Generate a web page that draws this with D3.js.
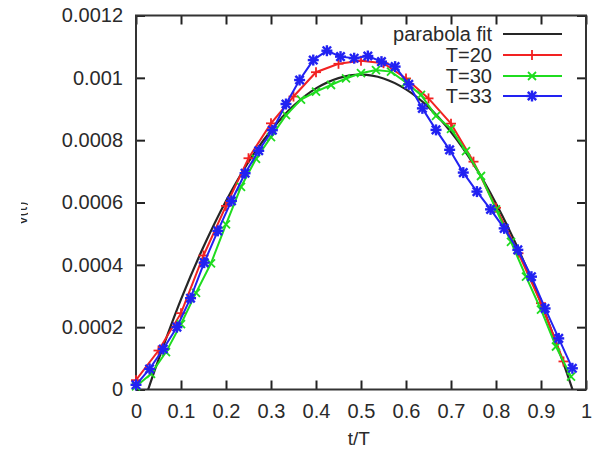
<!DOCTYPE html>
<html>
<head>
<meta charset="utf-8">
<script src="https://cdn.jsdelivr.net/npm/d3@7"></script>
<style>
  html, body { margin: 0; padding: 0; background: #fff; }
  svg { display: block; }
  text { font-family: "Liberation Sans", Arial, sans-serif; fill: #2a2a2a; }
</style>
</head>
<body>
<svg id="chart" width="603" height="451"></svg>
<script>
// ---- data ----
const xTicks = [0, 0.1, 0.2, 0.3, 0.4, 0.5, 0.6, 0.7, 0.8, 0.9, 1];
const xTickLabels = ["0", "0.1", "0.2", "0.3", "0.4", "0.5", "0.6", "0.7", "0.8", "0.9", "1"];
const yTicks = [0, 0.0002, 0.0004, 0.0006, 0.0008, 0.001, 0.0012];
const yTickLabels = ["0", "0.0002", "0.0004", "0.0006", "0.0008", "0.001", "0.0012"];
const xLabel = "t/T";
const yLabel = "v(t)";
const seriesNames = ["parabola fit", "T=20", "T=30", "T=33"];

// parabola fit, sampled along the drawn curve
const fitT = [0.027, 0.05, 0.1, 0.15, 0.2, 0.25, 0.3, 0.35, 0.4, 0.45, 0.5, 0.55, 0.6, 0.65, 0.7, 0.75, 0.8, 0.85, 0.9, 0.95, 0.97];
const fitV = [0, 0.000096, 0.000289, 0.000458, 0.000605, 0.00073, 0.000831, 0.00091, 0.000966, 0.000999, 0.00101, 0.000998, 0.000963, 0.000906, 0.000826, 0.000723, 0.000597, 0.000449, 0.000278, 0.000084, 0];

// T=20: points at t = i/20
const t20 = [0, 0.05, 0.1, 0.15, 0.2, 0.25, 0.3, 0.35, 0.4, 0.45, 0.5, 0.55, 0.6, 0.65, 0.7, 0.75, 0.8, 0.85, 0.9, 0.95];
const v20 = [0.00003, 0.000125, 0.000245, 0.00043, 0.000589, 0.000742, 0.000854, 0.00094, 0.001018, 0.001045, 0.001055, 0.001047, 0.000998, 0.000934, 0.000853, 0.000731, 0.000583, 0.000437, 0.000277, 0.00009];

// T=30: points at t = i/30
const t30 = [0, 0.0333, 0.0667, 0.1, 0.1333, 0.1667, 0.2, 0.2333, 0.2667, 0.3, 0.3333, 0.3667, 0.4, 0.4333, 0.4667, 0.5, 0.5333, 0.5667, 0.6, 0.6333, 0.6667, 0.7, 0.7333, 0.7667, 0.8, 0.8333, 0.8667, 0.9, 0.9333, 0.9667];
const v30 = [0.00001, 0.00005, 0.00012, 0.00021, 0.00031, 0.000405, 0.00053, 0.00065, 0.00074, 0.00081, 0.00088, 0.00093, 0.000956, 0.000977, 0.000998, 0.001015, 0.001025, 0.00102, 0.000985, 0.000945, 0.000878, 0.000836, 0.000765, 0.000685, 0.000578, 0.000474, 0.000362, 0.000256, 0.000138, 0.000041];

// T=33: points at t = i/33
const t33 = [0, 0.0303, 0.0606, 0.0909, 0.1212, 0.1515, 0.1818, 0.2121, 0.2424, 0.2727, 0.303, 0.3333, 0.3636, 0.3939, 0.4242, 0.4545, 0.4848, 0.5152, 0.5455, 0.5758, 0.6061, 0.6364, 0.6667, 0.697, 0.7273, 0.7576, 0.7879, 0.8182, 0.8485, 0.8788, 0.9091, 0.9394, 0.9697];
const v33 = [0.000015, 0.000066, 0.00013, 0.0002, 0.000293, 0.000407, 0.000509, 0.000605, 0.000694, 0.000766, 0.000832, 0.000916, 0.000993, 0.001057, 0.001087, 0.001068, 0.001063, 0.00107, 0.001052, 0.001036, 0.000979, 0.000902, 0.000833, 0.000769, 0.000696, 0.000635, 0.000578, 0.000517, 0.000448, 0.000362, 0.00026, 0.000164, 0.000068];

// ---- drawing ----
const svg = d3.select("#chart");
const L = 136, R = 586, T = 15.5, B = 389.5;
const x = d3.scaleLinear().domain([0, 1]).range([L, R]);
const y = d3.scaleLinear().domain([0, 0.0012]).range([B, T]);

const colors = { fit: "#262626", r: "#f22222", g: "#1fdc1f", b: "#2222f2" };
const fontSize = 20;

// axes (inward ticks, mirrored)
const tick = 9;
const gx = svg.append("g").attr("transform", `translate(0,${B})`)
  .call(d3.axisBottom(x).tickValues(xTicks).tickFormat((d, i) => xTickLabels[i]).tickSize(-tick).tickPadding(14));
const gx2 = svg.append("g").attr("transform", `translate(0,${T})`)
  .call(d3.axisTop(x).tickValues(xTicks).tickFormat("").tickSize(-tick));
const gy = svg.append("g").attr("transform", `translate(${L},0)`)
  .call(d3.axisLeft(y).tickValues(yTicks).tickFormat((d, i) => yTickLabels[i]).tickSize(-tick).tickPadding(13));
const gy2 = svg.append("g").attr("transform", `translate(${R},0)`)
  .call(d3.axisRight(y).tickValues(yTicks).tickFormat("").tickSize(-tick));
[gx, gx2, gy, gy2].forEach(g => {
  g.select(".domain").remove();
  g.selectAll(".tick line").attr("stroke", "#222").attr("stroke-width", 2);
  g.selectAll(".tick text").attr("font-size", fontSize).attr("fill", "#2a2a2a")
    .attr("font-family", '"Liberation Sans", Arial, sans-serif');
});
svg.append("rect").attr("x", L).attr("y", T).attr("width", R - L).attr("height", B - T)
  .attr("fill", "none").attr("stroke", "#333").attr("stroke-width", 2);

// axis labels
svg.append("text").attr("x", x(0.495)).attr("y", 445).attr("text-anchor", "middle")
  .attr("font-size", 19).text(xLabel);
svg.append("clipPath").attr("id", "ylc").append("rect").attr("x", 21).attr("y", 180).attr("width", 7).attr("height", 70);
svg.append("g").attr("clip-path", "url(#ylc)")
  .append("text").attr("transform", "translate(27,213) rotate(-90)")
  .attr("text-anchor", "middle").attr("font-size", 16).attr("fill", "#888").text(yLabel);

// lines
const line = d3.line().x(d => x(d[0])).y(d => y(d[1]));
const fitLine = d3.line().x(d => x(d[0])).y(d => y(d[1])).curve(d3.curveCatmullRom);
const zip = (a, b) => a.map((v, i) => [v, b[i]]);

const plot = svg.append("g");
plot.append("path").datum(zip(fitT, fitV)).attr("d", fitLine)
  .attr("fill", "none").attr("stroke", colors.fit).attr("stroke-width", 2.2);

function plus(g, px, py, s, c, w) {
  g.append("line").attr("x1", px - s).attr("x2", px + s).attr("y1", py).attr("y2", py).attr("stroke", c).attr("stroke-width", w);
  g.append("line").attr("x1", px).attr("x2", px).attr("y1", py - s).attr("y2", py + s).attr("stroke", c).attr("stroke-width", w);
}
function cross(g, px, py, s, c, w) {
  g.append("line").attr("x1", px - s).attr("x2", px + s).attr("y1", py - s).attr("y2", py + s).attr("stroke", c).attr("stroke-width", w);
  g.append("line").attr("x1", px - s).attr("x2", px + s).attr("y1", py + s).attr("y2", py - s).attr("stroke", c).attr("stroke-width", w);
}
const markers = {
  r: (g, px, py) => plus(g, px, py, 5, colors.r, 1.8),
  g: (g, px, py) => cross(g, px, py, 4, colors.g, 1.8),
  b: (g, px, py) => { plus(g, px, py, 5.5, colors.b, 2.4); cross(g, px, py, 4.2, colors.b, 2.4); }
};

const series = [
  { t: t20, v: v20, c: "r" },
  { t: t30, v: v30, c: "g" },
  { t: t33, v: v33, c: "b" }
];
series.forEach(s => {
  const pts = zip(s.t, s.v);
  const g = plot.append("g");
  g.append("path").datum(pts).attr("d", line).attr("fill", "none")
    .attr("stroke", colors[s.c]).attr("stroke-width", 2);
  pts.forEach(p => markers[s.c](g, x(p[0]), y(p[1])));
});

// legend
const legY = [34, 55, 76, 96];
const lg = svg.append("g");
seriesNames.forEach((name, i) => {
  const cy = legY[i];
  lg.append("text").attr("x", 492).attr("y", cy + 7).attr("text-anchor", "end")
    .attr("font-size", fontSize).text(name);
  const c = i === 0 ? colors.fit : colors[["r", "g", "b"][i - 1]];
  lg.append("line").attr("x1", 503).attr("x2", 562).attr("y1", cy).attr("y2", cy)
    .attr("stroke", c).attr("stroke-width", i === 0 ? 2.2 : 2);
  if (i > 0) markers[["r", "g", "b"][i - 1]](lg, 532, cy);
});
</script>
</body>
</html>
